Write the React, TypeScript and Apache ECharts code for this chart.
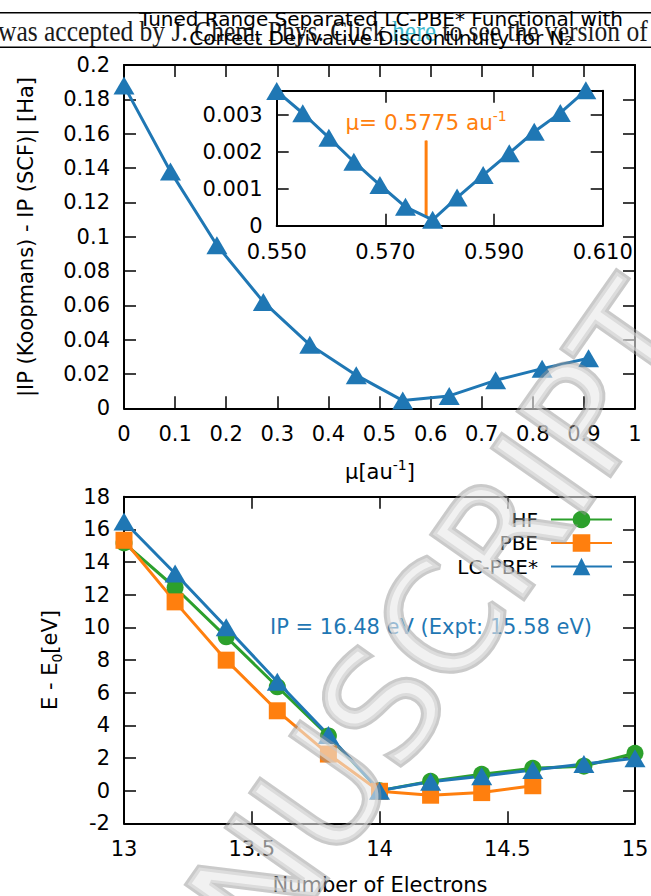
import React, { useEffect, useRef } from 'react';
import * as echarts from 'echarts';

// ---------- data ----------
const muValues = [0, 0.0909, 0.1818, 0.2727, 0.3636, 0.4545, 0.5455, 0.6364, 0.7273, 0.8182, 0.9091];
const ipDiff = [0.188, 0.138, 0.095, 0.062, 0.037, 0.0193, 0.0045, 0.0072, 0.0163, 0.0231, 0.0292];

const insetMu = [0.55, 0.5548, 0.5596, 0.5642, 0.569, 0.5737, 0.5787, 0.5832, 0.588, 0.5928, 0.5974, 0.6022, 0.6069];
const insetDiff = [0.00364, 0.00304, 0.00238, 0.00173, 0.0011, 0.00051, 0.00016, 0.00076, 0.00137, 0.00196, 0.00254, 0.00305, 0.00366];

const optimalMu = 0.5775;
const markerLineY = [0.00024, 0.0023];

const electrons = [13, 13.2, 13.4, 13.6, 13.8, 14, 14.2, 14.4, 14.6, 14.8, 15];
const hfEnergy = [15.17, 12.44, 9.42, 6.36, 3.35, 0, 0.57, 1.0, 1.37, 1.5, 2.29];
const pbeElectrons = [13, 13.2, 13.4, 13.6, 13.8, 14, 14.2, 14.4, 14.6];
const pbeEnergy = [15.33, 11.56, 7.99, 4.89, 2.24, -0.04, -0.28, -0.12, 0.3];
const lcEnergy = [16.48, 13.3, 10.0, 6.67, 3.4, 0, 0.55, 0.88, 1.27, 1.63, 1.98];

const seriesNames = ['HF', 'PBE', 'LC-PBE*'];

const FONT = 'DejaVu Sans';
const BLUE = '#1f77b4';
const ORANGE = '#ff7f0e';
const GREEN = '#2ca02c';
const LW = 3;

const zip = (xs: number[], ys: number[]) => xs.map((x, i) => [x, ys[i]]);

function xPair(gridIndex: number, min: number, max: number, interval: number, margin: number, fmt?: (v: number) => string) {
  const base = {
    type: 'value' as const,
    gridIndex,
    min,
    max,
    interval,
    splitLine: { show: false },
    axisLine: { show: true, onZero: false, lineStyle: { color: '#000', width: 2 } },
    axisTick: { show: true, inside: true, length: 12, lineStyle: { color: '#000', width: 1.5 } },
  };
  return [
    { ...base, position: 'bottom', axisLabel: { show: true, color: '#000', fontFamily: FONT, fontSize: 21, margin, formatter: fmt } },
    { ...base, position: 'top', axisLabel: { show: false } },
  ];
}

function yPair(gridIndex: number, min: number, max: number, interval: number, margin: number, fmt?: (v: number) => string) {
  const base = {
    type: 'value' as const,
    gridIndex,
    min,
    max,
    interval,
    splitLine: { show: false },
    axisLine: { show: true, onZero: false, lineStyle: { color: '#000', width: 2 } },
    axisTick: { show: true, inside: true, length: 12, lineStyle: { color: '#000', width: 1.5 } },
  };
  return [
    { ...base, position: 'left', axisLabel: { show: true, color: '#000', fontFamily: FONT, fontSize: 21, margin, formatter: fmt } },
    { ...base, position: 'right', axisLabel: { show: false } },
  ];
}

export default function App() {
  const ref = useRef<HTMLDivElement>(null);

  useEffect(() => {
    if (!ref.current) return;
    const chart = echarts.init(ref.current, null, { renderer: 'svg' });

    const gridBase = { containLabel: false, outerBoundsMode: 'none', show: false };

    const option: any = {
      animation: false,
      backgroundColor: '#fff',
      grid: [
        { ...gridBase, left: 124, top: 65, width: 511, height: 343.3 },
        { ...gridBase, left: 276.7, top: 90.7, width: 326, height: 135 },
        { ...gridBase, left: 124, top: 496.7, width: 511, height: 326.6 },
      ],
      xAxis: [
        ...xPair(0, 0, 1, 0.1, 15),
        ...xPair(1, 0.55, 0.61, 0.02, 16, (v: number) => v.toFixed(3)),
        ...xPair(2, 13, 15, 0.5, 15),
      ],
      yAxis: [
        ...yPair(0, 0, 0.2, 0.02, 14),
        ...yPair(1, 0, 0.00365, 0.001, 14, (v: number) => {
          const k = Math.round(v / 0.001);
          return Math.abs(v - k * 0.001) < 1e-7 ? String(Number((k * 0.001).toFixed(3))) : '';
        }),
        ...yPair(2, -2, 18, 2, 14),
      ],
      legend: {
        data: seriesNames,
        orient: 'vertical',
        align: 'right',
        right: 33,
        top: 504.5,
        itemWidth: 61,
        itemHeight: 22,
        itemGap: 3.5,
        selectedMode: false,
        textStyle: { fontFamily: FONT, fontSize: 20, color: '#000', padding: [0, 8, 0, 0] },
      },
      series: [
        {
          name: 'tuning',
          type: 'line',
          xAxisIndex: 0,
          yAxisIndex: 0,
          data: zip(muValues, ipDiff),
          symbol: 'triangle',
          symbolSize: [21, 18],
          clip: false,
          itemStyle: { color: BLUE },
          lineStyle: { color: BLUE, width: LW },
        },
        {
          name: 'tuning-inset',
          type: 'line',
          xAxisIndex: 2,
          yAxisIndex: 2,
          data: zip(insetMu, insetDiff),
          symbol: 'triangle',
          symbolSize: [21, 18],
          clip: false,
          itemStyle: { color: BLUE },
          lineStyle: { color: BLUE, width: LW },
        },
        {
          name: 'optimal-mu',
          type: 'line',
          xAxisIndex: 2,
          yAxisIndex: 2,
          data: [
            { value: [optimalMu, markerLineY[0]], label: { show: false } },
            {
              value: [optimalMu, markerLineY[1]],
              label: {
                show: true,
                position: 'top',
                distance: 5,
                formatter: '{a|μ= ' + optimalMu.toFixed(4) + ' au}{s|-1}',
                rich: {
                  a: { fontFamily: FONT, fontSize: 21.5, color: ORANGE, lineHeight: 26 },
                  s: { fontFamily: FONT, fontSize: 14, color: ORANGE, verticalAlign: 'top', lineHeight: 26 },
                },
              },
            },
          ],
          symbol: 'circle',
          symbolSize: 1,
          showSymbol: true,
          clip: false,
          z: 1,
          itemStyle: { color: ORANGE },
          lineStyle: { color: ORANGE, width: LW },
        },
        {
          name: 'HF',
          type: 'line',
          xAxisIndex: 4,
          yAxisIndex: 4,
          data: zip(electrons, hfEnergy),
          symbol: 'circle',
          symbolSize: 17,
          clip: false,
          itemStyle: { color: GREEN },
          lineStyle: { color: GREEN, width: LW },
        },
        {
          name: 'PBE',
          type: 'line',
          xAxisIndex: 4,
          yAxisIndex: 4,
          data: zip(pbeElectrons, pbeEnergy),
          symbol: 'rect',
          symbolSize: 17,
          clip: false,
          itemStyle: { color: ORANGE },
          lineStyle: { color: ORANGE, width: LW },
        },
        {
          name: 'LC-PBE*',
          type: 'line',
          xAxisIndex: 4,
          yAxisIndex: 4,
          data: zip(electrons, lcEnergy),
          symbol: 'triangle',
          symbolSize: [21, 18],
          clip: false,
          itemStyle: { color: BLUE },
          lineStyle: { color: BLUE, width: LW },
        },
      ],
      graphic: [
        // journal header strip
        { type: 'line', z: 1, shape: { x1: 0, y1: 12.7, x2: 651, y2: 12.7 }, style: { stroke: '#000', lineWidth: 1.5 } },
        { type: 'line', z: 1, shape: { x1: 0, y1: 47.3, x2: 651, y2: 47.3 }, style: { stroke: '#000', lineWidth: 1.5 } },
        {
          type: 'text',
          z: 1,
          x: -2,
          y: 31,
          scaleX: 0.88,
          style: {
            text: '{a|was accepted by J. Chem. Phys. Click }{h|here}{a| to see the version of}',
            verticalAlign: 'middle',
            align: 'left',
            rich: {
              a: { fontFamily: 'Liberation Serif', fontSize: 29, fill: '#1a1a1a' },
              h: { fontFamily: 'Liberation Serif', fontSize: 29, fill: '#3ab7cc' },
            },
          },
        },
        // title
        {
          type: 'text',
          z: 5,
          x: 381,
          y: 28,
          style: {
            text: '{t|Tuned Range Separated LC-PBE* Functional with}\n{t|Correct Derivative Discontinuity for N}{s|2}',
            align: 'center',
            verticalAlign: 'middle',
            rich: {
              t: { fontFamily: FONT, fontSize: 20, fill: '#000', lineHeight: 19 },
              s: { fontFamily: FONT, fontSize: 13, fill: '#000', lineHeight: 19, verticalAlign: 'bottom', padding: [6, 0, 0, 0] },
            },
          },
        },
        // axis names
        {
          type: 'text',
          x: 26,
          y: 237,
          rotation: Math.PI / 2,
          style: { text: '|IP (Koopmans) - IP (SCF)| [Ha]', font: `21px "${FONT}"`, fill: '#000', align: 'center', verticalAlign: 'middle' },
        },
        {
          type: 'text',
          x: 380,
          y: 472,
          style: {
            text: '{a|μ[au}{s|-1}{a|]}',
            align: 'center',
            verticalAlign: 'middle',
            rich: {
              a: { fontFamily: FONT, fontSize: 21, fill: '#000', lineHeight: 28 },
              s: { fontFamily: FONT, fontSize: 14, fill: '#000', lineHeight: 28, verticalAlign: 'top' },
            },
          },
        },
        {
          type: 'text',
          x: 50,
          y: 660,
          rotation: Math.PI / 2,
          style: {
            text: '{a|E - E}{s|0}{a|[eV]}',
            align: 'center',
            verticalAlign: 'middle',
            rich: {
              a: { fontFamily: FONT, fontSize: 21, fill: '#000', lineHeight: 28 },
              s: { fontFamily: FONT, fontSize: 14, fill: '#000', lineHeight: 28, verticalAlign: 'bottom' },
            },
          },
        },
        {
          type: 'text',
          x: 380,
          y: 885,
          style: { text: 'Number of Electrons', font: `21px "${FONT}"`, fill: '#000', align: 'center', verticalAlign: 'middle' },
        },
        // IP annotation
        {
          type: 'text',
          x: 431,
          y: 627,
          style: { text: 'IP = 16.48 eV (Expt: 15.58 eV)', font: `21px "${FONT}"`, fill: BLUE, align: 'center', verticalAlign: 'middle' },
        },
        // watermark
        {
          type: 'text',
          z: 100,
          x: 378,
          y: 714,
          rotation: (55 * Math.PI) / 180,
          style: {
            text: 'MANUSCRIPT',
            font: `152px "${FONT}"`,
            fill: 'rgba(232,232,232,0.6)',
            stroke: 'rgba(150,150,150,0.5)',
            lineWidth: 6,
            align: 'center',
            verticalAlign: 'middle',
          },
        },
      ],
    };

    chart.setOption(option);
    return () => chart.dispose();
  }, []);

  return <div ref={ref} style={{ position: 'fixed', left: 0, top: 0, width: 651, height: 896 }} />;
}
